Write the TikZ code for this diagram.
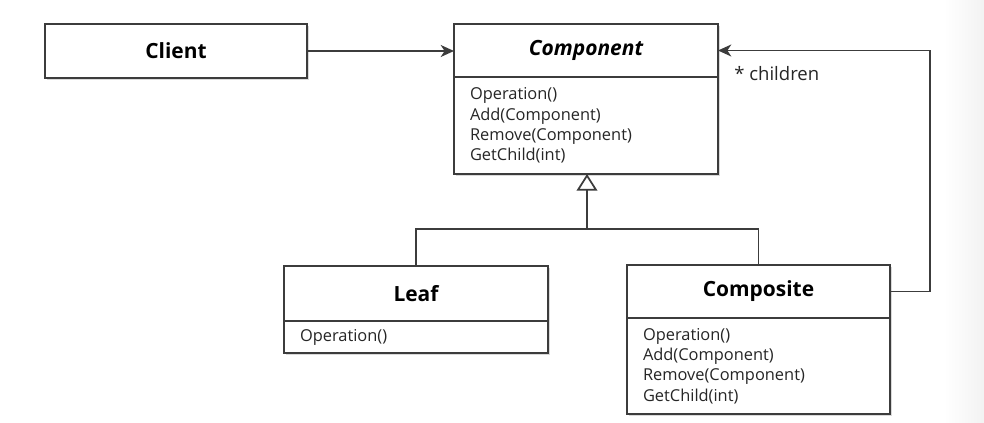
\documentclass[tikz,border=0pt]{standalone}
\usepackage{fontspec}
\setmainfont{Open Sans}
\usetikzlibrary{arrows.meta,positioning,shadows}
\definecolor{linegray}{HTML}{3C3C3C}
\tikzset{
    classhead/.style={
    rectangle,draw=linegray,line width=1.3pt,fill=white,inner sep=0pt,outer sep=0pt,
    font=\fontsize{15.7pt}{18pt}\selectfont\bfseries,
    drop shadow={shadow xshift=1.2pt,shadow yshift=-1.5pt,opacity=0.3}
    },
    classbody/.style={
    rectangle,draw=linegray,line width=1.3pt,fill=white,inner xsep=12pt,inner ysep=0pt,outer sep=0pt,
    align=left,text=black!85,font=\fontsize{12.3pt}{15.3pt}\selectfont,
    drop shadow={shadow xshift=1.2pt,shadow yshift=-1.5pt,opacity=0.3}
    },
    assoc/.style={
    draw=linegray,line width=1.3pt,-{Stealth[length=10pt,width=9pt,inset=3pt]}
    },
    inherit/.style={
    draw=linegray,line width=1.3pt,-{Triangle[open,fill=white,length=12.5pt,width=15.5pt]}
    },
    rolelabel/.style={
    font=\fontsize{13.9pt}{15pt}\selectfont,text=black!85,inner sep=0pt
    },
}
\begin{document}
\begin{tikzpicture}[x=0.75pt,y=-0.75pt]
   \useasboundingbox (0,0) rectangle (984,422);
   \shade[left color=white,right color=black!5] (944,0) rectangle (984,422);

   % classes
   \node[classhead,minimum width=196.5pt,minimum height=40.5pt] (clientHead) at (176,51) {Client};
   \node[classhead,minimum width=198pt,minimum height=39.75pt] (compHead) at (586,50.5) {\itshape Component};
   \node[classbody,text width=174pt,minimum height=72.75pt,below=0pt of compHead] (compBody)
     {Operation()\\Add(Component)\\Remove(Component)\\GetChild(int)};
   \node[classhead,minimum width=198pt,minimum height=41.25pt] (leafHead) at (416,293.5) {Leaf};
   \node[classbody,text width=174pt,minimum height=24pt,below=0pt of leafHead] (leafBody)
     {Operation()};
   \node[classhead,minimum width=197.25pt,minimum height=39.75pt] (cmpsHead) at (758.5,291.5) {Composite};
   \node[classbody,text width=173.25pt,minimum height=72pt,below=0pt of cmpsHead] (cmpsBody)
     {Operation()\\Add(Component)\\Remove(Component)\\GetChild(int)};

   \coordinate (joint) at (587,229);
   \node[rolelabel,anchor=west] (kids) at (734,74) {* children};

   % connectors
   \draw[assoc] (clientHead.east) -- (clientHead.east -| compHead.west);
   \draw[inherit] (joint) -- (joint |- compBody.south);
   \draw[draw=linegray,line width=1.3pt] (leafHead.north) |- (joint) -| (cmpsHead.north);
   \draw[assoc] (cmpsHead.east) -- ++(40,0) |- (compHead.east);
\end{tikzpicture}
\end{document}
